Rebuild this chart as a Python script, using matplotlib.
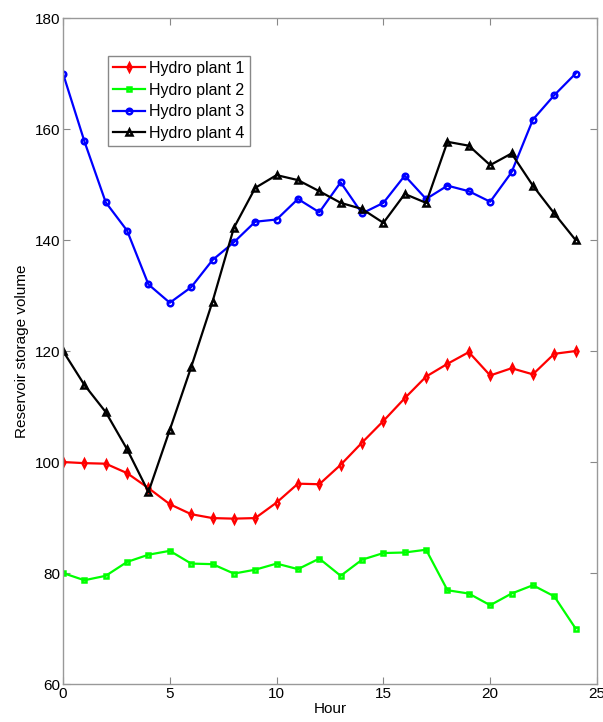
import matplotlib
matplotlib.use('Agg')
import matplotlib.pyplot as plt

plt.rcParams['font.family'] = ['Liberation Sans', 'DejaVu Sans']

# Hourly reservoir storage for each hydro plant
hours = list(range(25))

plant1 = [100.0, 99.8, 99.7, 98.0, 95.3, 92.4, 90.6, 89.9, 89.8, 89.9, 92.7, 96.1, 96.0,
          99.5, 103.5, 107.4, 111.5, 115.4, 117.7, 119.8, 115.6, 116.9, 115.8, 119.5, 120.0]
plant2 = [80.0, 78.7, 79.5, 82.0, 83.3, 84.0, 81.7, 81.6, 79.9, 80.6, 81.7, 80.7, 82.6,
          79.5, 82.4, 83.6, 83.7, 84.2, 76.9, 76.3, 74.2, 76.3, 77.8, 75.8, 70.0]
plant3 = [170.0, 157.8, 146.8, 141.7, 132.0, 128.7, 131.5, 136.4, 139.6, 143.3, 143.7, 147.4, 145.0,
          150.4, 144.8, 146.7, 151.6, 147.4, 149.8, 148.8, 146.9, 152.2, 161.7, 166.1, 170.0]
plant4 = [120.0, 113.9, 109.0, 102.3, 94.6, 105.8, 117.1, 128.9, 142.2, 149.4, 151.7, 150.8, 148.8,
          146.7, 145.6, 143.1, 148.3, 146.7, 157.7, 157.0, 153.5, 155.6, 149.8, 144.8, 140.0]

labels = ['Hydro plant 1', 'Hydro plant 2', 'Hydro plant 3', 'Hydro plant 4']

fig = plt.figure(figsize=(6.03, 7.22), dpi=100)
ax = fig.add_axes([0.1045, 0.0526, 0.8855, 0.9224])

ax.plot(hours, plant1, color='#ff0000', lw=1.6, marker='d', ms=4, mfc='none', mew=1.8, label=labels[0])
ax.plot(hours, plant2, color='#00ff00', lw=1.6, marker='s', ms=3.5, mfc='none', mew=1.8, label=labels[1])
ax.plot(hours, plant3, color='#0000ff', lw=1.6, marker='o', ms=4, mfc='none', mew=1.8, label=labels[2])
ax.plot(hours, plant4, color='#000000', lw=1.6, marker='^', ms=4, mfc='none', mew=1.8, label=labels[3])

ax.set_xlim(0, 25)
ax.set_ylim(60, 180)
ax.set_xticks([0, 5, 10, 15, 20, 25])
ax.set_yticks([60, 80, 100, 120, 140, 160, 180])
ax.tick_params(direction='in', top=True, right=True, length=5, width=0.8,
               color='#888888', labelsize=11, pad=2)
for s in ax.spines.values():
    s.set_color('#999999')
    s.set_linewidth(1.0)

ax.set_xlabel('Hour', fontsize=11, labelpad=1)
ax.set_ylabel('Reservoir storage volume', fontsize=11, labelpad=4)

leg = ax.legend(loc='upper left', bbox_to_anchor=(0.084, 0.943), borderaxespad=0,
                fontsize=11.5, fancybox=False, framealpha=1, edgecolor='#888888',
                handlelength=2.0, handletextpad=0.3, borderpad=0.3, labelspacing=0.42)
leg.get_frame().set_linewidth(1.0)

fig.savefig('out.png', dpi=100)
